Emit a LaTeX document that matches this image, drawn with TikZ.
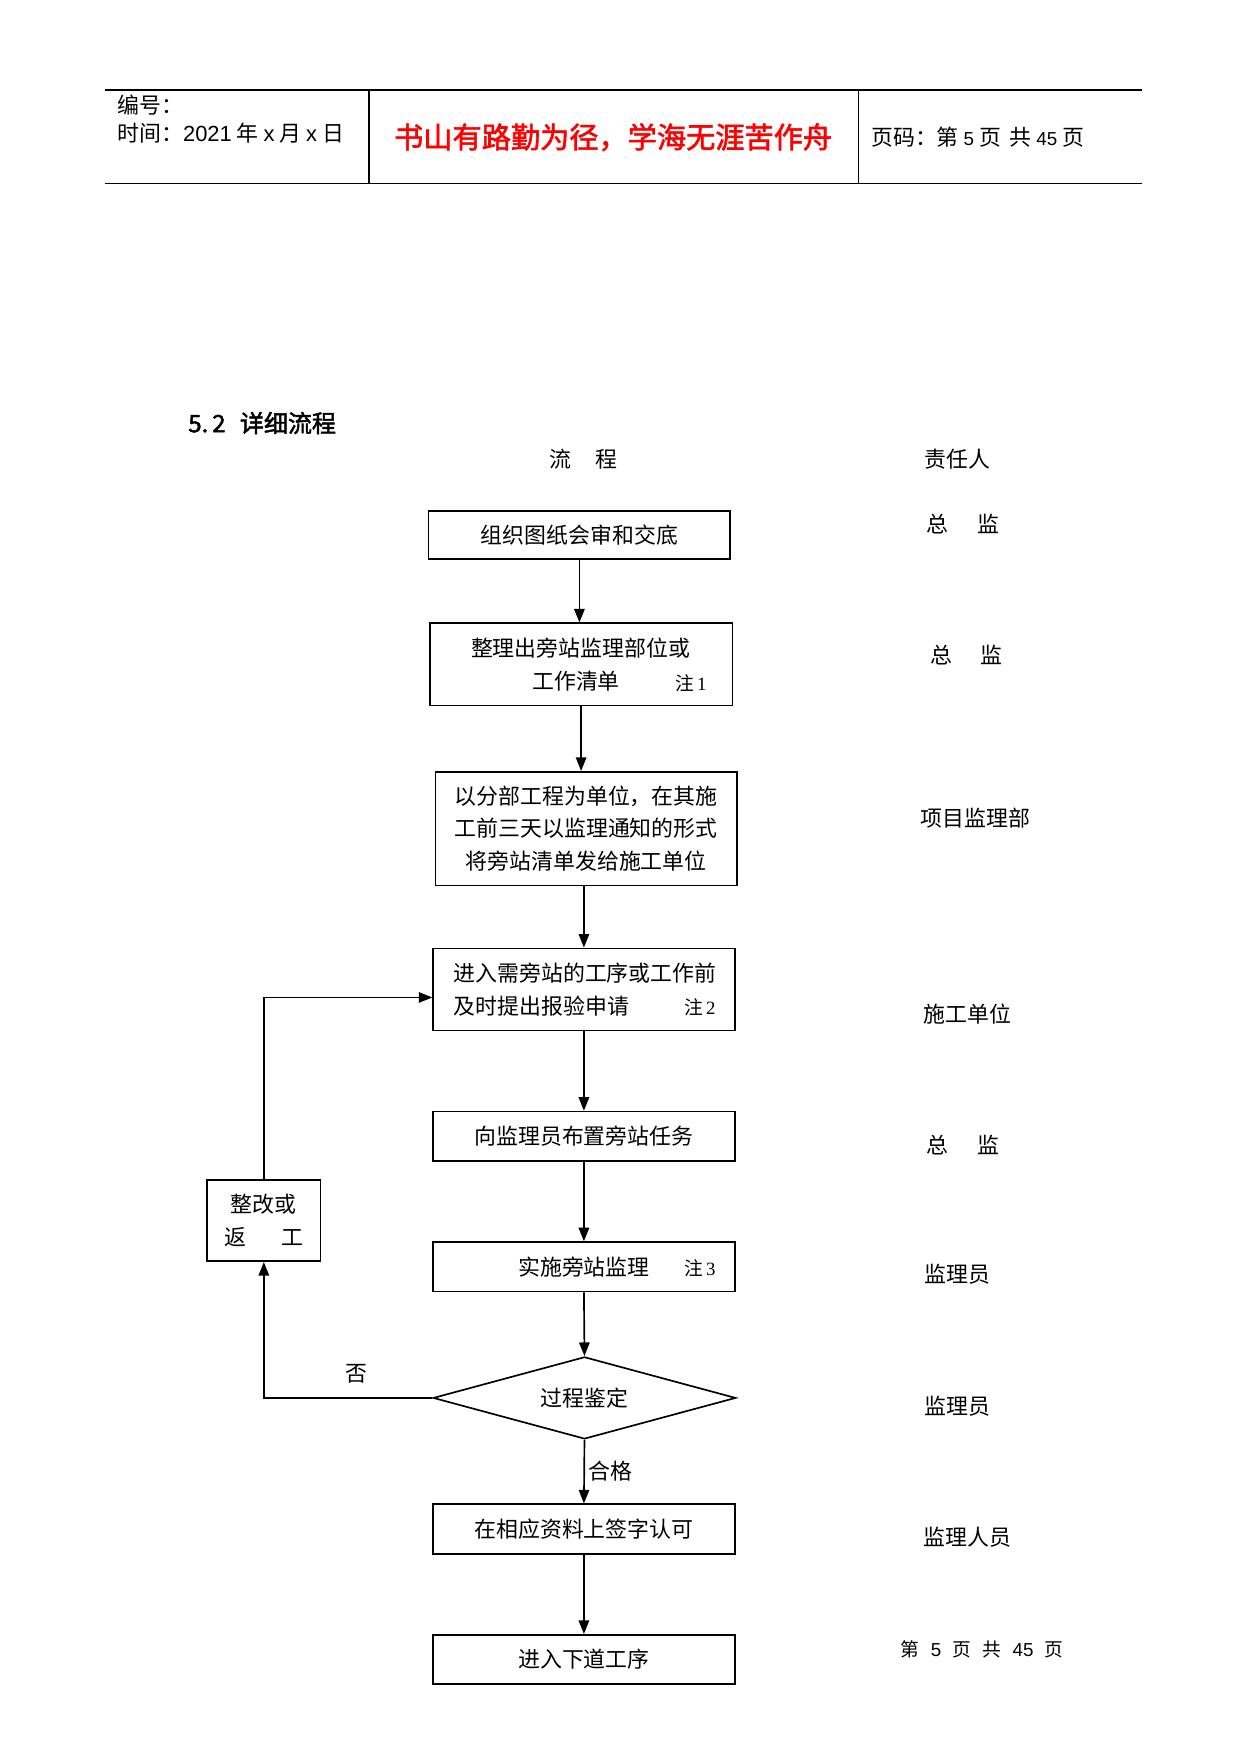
\documentclass[tikz,border=0pt]{standalone}
\usepackage{fontspec}
\setmainfont{Noto Sans CJK SC}
\newfontfamily\cjkbold[FakeBold=2]{Noto Sans CJK SC}
\newfontfamily\latnserif{Liberation Serif}
\newfontfamily\latnsans{Liberation Sans}
\usetikzlibrary{arrows.meta,shapes.geometric}
\def\pxu{0.5394pt}
\begin{document}
\begin{tikzpicture}[x=0.5394pt, y=-0.5394pt,
  sz/.style 2 args={minimum width=#1*0.5394pt, minimum height=#2*0.5394pt},
  box/.style={draw, line width=0.8pt, inner sep=0pt, align=center,
              font=\fontsize{10.5}{15.6}\selectfont},
  lbl/.style={inner sep=0pt, font=\fontsize{10.5}{12}\selectfont},
  notelbl/.style={inner sep=0pt, font=\fontsize{9}{10}\selectfont},
  arr/.style={-{Triangle[length=6.5pt,width=5pt]}, line width=0.8pt},
  rule/.style={line width=0.7pt}]
\useasboundingbox (0,0) rectangle (1103,1559);

% ---------- header ----------
\draw[rule] (93,80) -- (1015,80);
\draw[rule] (93,163) -- (1015,163);
\draw[line width=0.9pt] (328,80) -- (328,163);
\draw[line width=0.6pt] (763,80) -- (763,163);
\node[lbl, anchor=west] (hno) at (104,93) {编号：};
\node[lbl, anchor=west] (hdate) at (104,118) {时间：{\latnsans 2021} 年 {\latnsans x} 月 {\latnsans x} 日};
\node[inner sep=0pt, text=red, font=\cjkbold\fontsize{14}{16}\selectfont] (htitle) at (545,122) {书山有路勤为径，学海无涯苦作舟};
\node[lbl, anchor=west] (hpage) at (774,122) {页码：第 {\latnsans\small 5} 页 \,共 {\latnsans\small 45} 页};

% ---------- titles ----------
\node[inner sep=0pt, anchor=west, font=\cjkbold\fontsize{11.5}{13}\selectfont] (sec) at (167,376) {5.\,2\hspace{0.6em}详细流程};
\node[lbl] (colA) at (519,408) {流\hspace{1.1em}程};
\node[lbl] (colB) at (851,408) {责任人};

% ---------- flow boxes ----------
\node[box, sz={268}{43}] (b1) at (515,475.5) {组织图纸会审和交底};
\node[box, sz={269}{73}] (b2) at (516.5,590.5) {};
\node[lbl] (b2t1) at (516,576) {整理出旁站监理部位或};
\node[lbl] (b2t2) at (512,605) {工作清单};
\node[notelbl] (b2n) at (614,607) {注\,{\latnserif 1}};
\node[box, sz={268}{101}] (b3) at (521,736.5) {以分部工程为单位，在其施\\工前三天以监理通知的形式\\将旁站清单发给施工单位};
\node[box, sz={268}{73}] (b4) at (519,879.5) {};
\node[lbl] (b4t1) at (520,865) {进入需旁站的工序或工作前};
\node[lbl, anchor=west] (b4t2) at (403,894) {及时提出报验申请};
\node[notelbl] (b4n) at (622,895) {注\,{\latnserif 2}};
\node[box, sz={268}{44}] (b5) at (519,1010) {向监理员布置旁站任务};
\node[box, sz={268}{44}] (b6) at (519,1126) {};
\node[lbl] (b6t) at (519,1126) {实施旁站监理};
\node[notelbl] (b6n) at (622,1127) {注\,{\latnserif 3}};
\node[draw, line width=0.8pt, diamond, aspect=3.7, inner sep=0pt, sz={269}{73},
      font=\fontsize{10.5}{12}\selectfont] (dia) at (519.5,1242.5) {过程鉴定};
\node[box, sz={268}{44}] (b7) at (519,1359) {在相应资料上签字认可};
\node[box, sz={268}{44}] (b8) at (519,1475) {进入下道工序};
\node[box, sz={101}{72}] (side) at (234.5,1085) {整改或\\返\hspace{1.6em}工};

% ---------- connectors ----------
\draw[arr] (b1.south) -- (b2.north -| b1.south);
\draw[arr] (b2.south) -- (b2.south |- b3.north);
\draw[arr] (b4.north |- b3.south) -- (b4.north);
\draw[arr] (b4.south) -- (b5.north);
\draw[arr] (b5.south) -- (b6.north);
\draw[arr] (b6.south) -- (dia.north);
\draw[arr] (dia.south) -- (b7.north);
\draw[arr] (b7.south) -- (b8.north);
\draw[arr] (dia.west) -| (side.south);
\draw[arr] (side.north) |- ([yshift=-3.8pt]b4.west);
\node[lbl] (no) at (317,1221) {否};
\node[lbl, anchor=west] (ok) at (523,1308) {合格};

% ---------- responsible persons ----------
\node[lbl] (r1) at (856,466) {总\hspace{1.3em}监};
\node[lbl] (r2) at (859,582) {总\hspace{1.3em}监};
\node[lbl] (r3) at (867,727) {项目监理部};
\node[lbl] (r4) at (860,901) {施工单位};
\node[lbl] (r5) at (856,1018) {总\hspace{1.3em}监};
\node[lbl] (r6) at (851,1133) {监理员};
\node[lbl] (r7) at (851,1250) {监理员};
\node[lbl] (r8) at (860,1366) {监理人员};
\node[inner sep=0pt, font=\fontsize{9}{10}\selectfont] (foot) at (873,1466) {第\hspace{0.6em}{\latnsans 5}\hspace{0.6em}页\hspace{0.6em}共\hspace{0.6em}{\latnsans 45}\hspace{0.6em}页};
\end{tikzpicture}
\end{document}
